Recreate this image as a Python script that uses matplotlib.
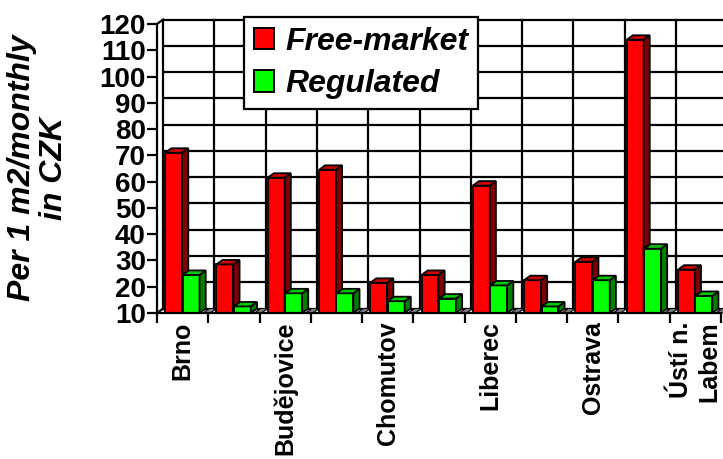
import numpy as np
import matplotlib.pyplot as plt
from matplotlib.patches import Polygon, Rectangle

plt.rcParams['font.family'] = ['Liberation Sans', 'DejaVu Sans']
plt.rcParams['font.weight'] = 'bold'

# rent per m2 per month, CZK
cities = ["Brno", "", "Budějovice", "", "Chomutov", "", "Liberec", "",
          "Ostrava", "", "Ústí n.\nLabem"]
free_market = [71, 28.5, 61.5, 64.5, 21.5, 24.5, 58.5, 22.5, 29.5, 114, 26.5]
regulated = [24.5, 12.5, 17.5, 17.5, 14.5, 15.5, 20.5, 12.5, 22.5, 34.5, 16.5]
y_ticks = list(range(10, 121, 10))

BASE = 10
DX, DY = 0.12, 1.7      # fake 3D depth offset (data units)
BAR_W = 0.33

fig = plt.figure(figsize=(7.23, 4.59), dpi=100)
ax = fig.add_axes([157 / 723, 1 - 313 / 459, 564 / 723, 289 / 459])
ax.set_xlim(0, len(cities))
ax.set_ylim(BASE, 120)
n = len(cities)

# back wall grid
for v in y_ticks:
    ax.plot([DX, n + DX], [v + DY, v + DY], color='black', lw=1.6,
            zorder=1, clip_on=False, solid_capstyle='butt')
for i in range(1, n + 1):
    ax.plot([i + DX, i + DX], [BASE + DY, 120 + DY], color='black', lw=1.6,
            zorder=1, clip_on=False)
# left wall edges
ax.plot([DX, DX], [BASE + DY, 120 + DY], color='black', lw=1.6, zorder=1, clip_on=False)
ax.plot([0, DX], [120, 120 + DY], color='black', lw=1.6, zorder=1, clip_on=False)
ax.plot([0, DX], [BASE, BASE + DY], color='black', lw=1.6, zorder=1, clip_on=False)


def bar3d(x0, h, face, side, top):
    kw = dict(edgecolor='black', lw=1.3, zorder=3, clip_on=False, joinstyle='miter')
    ax.add_patch(Rectangle((x0, BASE), BAR_W, h - BASE, facecolor=face, **kw))
    ax.add_patch(Polygon([(x0 + BAR_W, BASE), (x0 + BAR_W + DX, BASE + DY),
                          (x0 + BAR_W + DX, h + DY), (x0 + BAR_W, h)],
                         closed=True, facecolor=side, **kw))
    ax.add_patch(Polygon([(x0, h), (x0 + DX, h + DY), (x0 + BAR_W + DX, h + DY),
                          (x0 + BAR_W, h)], closed=True, facecolor=top, **kw))


for i in range(n):
    bar3d(i + 0.16, free_market[i], '#ff0000', '#800000', '#d00000')
    bar3d(i + 0.50, regulated[i], '#00ff00', '#008000', '#00c800')
    # empty floor slot behind each group
    x0 = i + 0.9
    ax.add_patch(Polygon([(x0, BASE), (x0 + DX, BASE + DY), (x0 + 0.14 + DX, BASE + DY),
                          (x0 + 0.14, BASE)], closed=True, facecolor='#808080',
                         edgecolor='black', lw=0.8, zorder=2, clip_on=False))

# front axes
for s in ['top', 'right']:
    ax.spines[s].set_visible(False)
for s in ['left', 'bottom']:
    ax.spines[s].set_linewidth(1.6)
    ax.spines[s].set_zorder(4)
ax.set_yticks(y_ticks)
ax.tick_params(axis='y', labelsize=20, width=1.6, length=7, pad=1)
ax.set_xticks(range(n + 1))
ax.set_xticklabels([])
ax.tick_params(axis='x', width=1.6, length=7)
for lab in ax.get_yticklabels():
    lab.set_fontweight('bold')

for i, name in enumerate(cities):
    if name:
        ax.text(i + 0.5, BASE - 3.2, name, rotation=90, ha='center', va='top',
                multialignment='right', fontsize=18, fontweight='bold',
                linespacing=1.25, clip_on=False)

fig.text(38 / 723, 1 - 168 / 459, "Per 1 m2/monthly\nin CZK", rotation=90,
         ha='center', va='center', multialignment='center', fontsize=23,
         fontweight='bold', fontstyle='italic', linespacing=1.1)

# legend
fr = Rectangle((0, 0), 1, 1, facecolor='#ff0000', edgecolor='black', lw=1.4)
gr = Rectangle((0, 0), 1, 1, facecolor='#00ff00', edgecolor='black', lw=1.4)
leg = fig.legend([fr, gr], ["Free-market", "Regulated"], loc='upper left',
                 bbox_to_anchor=(244 / 723, 1 - 17 / 459), fancybox=False,
                 framealpha=1, edgecolor='black', handlelength=0.65, handleheight=0.65,
                 handletextpad=0.35, borderpad=0.3, labelspacing=0.4,
                 borderaxespad=0, prop=dict(size=23, weight='bold', style='italic'))
leg.get_frame().set_linewidth(1.6)
leg.set_zorder(10)

fig.savefig("out.png", dpi=100)
